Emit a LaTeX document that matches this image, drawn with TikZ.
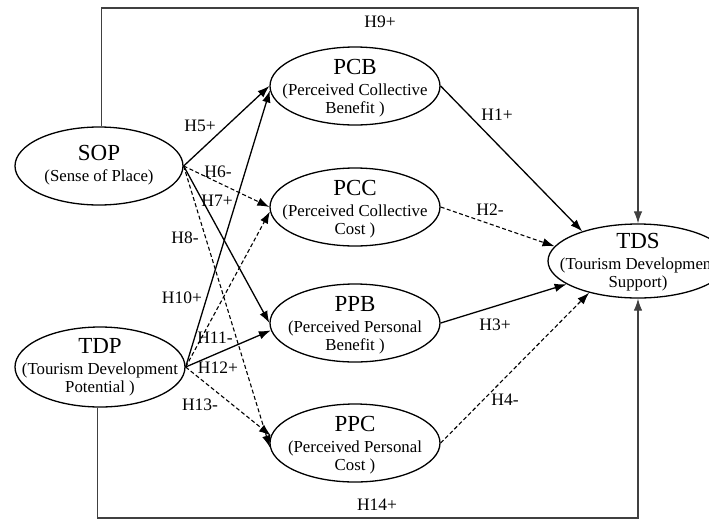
\documentclass[tikz,border=0pt]{standalone}
\usepackage{fontspec}
\setmainfont{Liberation Serif}
\usetikzlibrary{arrows.meta,shapes.geometric}
\begin{document}
\begin{tikzpicture}[x=1pt,y=-1pt,
  construct/.style 2 args={draw,ellipse,line width=1.3pt,inner sep=0pt,
    minimum width=170pt,minimum height=78pt,
    label={[align=center,inner sep=0pt,font=\fontsize{16.8}{18}\selectfont,
            yshift=#2]center:{#1}}},
  tip/.style={-{Latex[length=12pt,width=8.5pt]}},
  path/.style={tip,line width=1.3pt},
  dpath/.style={tip,line width=1.1pt,dash pattern=on 4pt off 2.5pt},
  frame/.style={tip,line width=1.1pt,draw=black!75},
  hyp/.style={font=\fontsize{17.5}{19}\selectfont,inner sep=0pt}]
\useasboundingbox (0,0) rectangle (709,520);
\newcommand{\ctitle}[1]{{\fontsize{23}{25}\selectfont #1}\\[3pt]}

% constructs
\node[construct={\ctitle{SOP}(Sense of Place)}{1pt},minimum width=168pt] (sop) at (99,166) {};
\node[construct={\ctitle{TDP}(Tourism Development\\Potential )}{0pt},minimum height=80pt] (tdp) at (100,367) {};
\node[construct={\ctitle{PCB}(Perceived Collective\\Benefit )}{-2pt}] (pcb) at (355,86) {};
\node[construct={\ctitle{PCC}(Perceived Collective\\Cost )}{-2pt}] (pcc) at (355,207) {};
\node[construct={\ctitle{PPB}(Perceived Personal\\Benefit )}{-2pt}] (ppb) at (355,323) {};
\node[construct={\ctitle{PPC}(Perceived Personal\\Cost )}{-2pt}] (ppc) at (355,443) {};
\node[construct={\ctitle{TDS}(Tourism Development\\Support)}{-1pt},minimum width=180pt,minimum height=74pt] (tds) at (638,261) {};

% direct effects on support
\draw[frame] (sop.87) -- (sop.87 |- 0,8) -| (tds.north);
\draw[frame] (tdp.267) -- (tdp.267 |- 0,518) -| (tds.south);

% mediators to support
\draw[path]  (pcb.east) -- (tds.152);
\draw[dpath] (pcc.east) -- (tds.170);
\draw[path]  (ppb.east) -- (tds.198);
\draw[dpath] (ppc.east) -- (tds.213);

% sense of place to mediators
\draw[path]  (sop.east) -- (pcb.west);
\draw[dpath] (sop.east) -- (pcc.west);
\draw[path]  (sop.east) -- (ppb.west);
\draw[dpath] (sop.east) -- (ppc.183);

% development potential to mediators
\draw[path]  (tdp.east) -- (pcb.183);
\draw[dpath] (tdp.east) -- (pcc.183);
\draw[path]  (tdp.east) -- (ppb.185);
\draw[dpath] (tdp.east) -- (ppc.175);

% hypothesis labels
\node[hyp] (h9)  at (380,22)  {H9+};
\node[hyp] (h14) at (377,505) {H14+};
\node[hyp] (h1)  at (497,115) {H1+};
\node[hyp] (h2)  at (490,210) {H2-};
\node[hyp] (h3)  at (495,325) {H3+};
\node[hyp] (h4)  at (505,400) {H4-};
\node[hyp] (h5)  at (200,126) {H5+};
\node[hyp] (h6)  at (218,172) {H6-};
\node[hyp] (h7)  at (217,201) {H7+};
\node[hyp] (h8)  at (185,238) {H8-};
\node[hyp] (h10) at (182,298) {H10+};
\node[hyp] (h11) at (215,338) {H11-};
\node[hyp] (h12) at (218,368) {H12+};
\node[hyp] (h13) at (200,405) {H13-};
\end{tikzpicture}
\end{document}
